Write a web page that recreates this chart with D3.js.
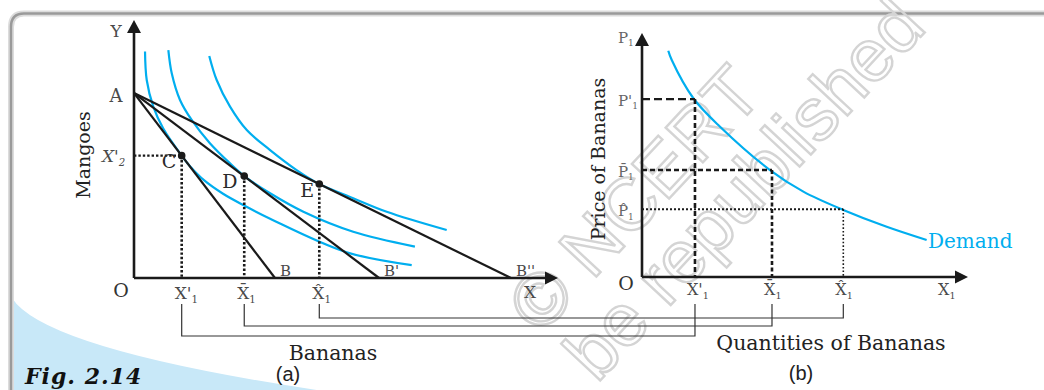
<!DOCTYPE html>
<html>
<head>
<meta charset="utf-8">
<script src="https://cdn.jsdelivr.net/npm/d3@7"></script>
<style>
  html, body { margin: 0; padding: 0; background: #fff; }
  svg { display: block; }
</style>
</head>
<body>
<div id="chart"></div>
<script>
// ---- data: panel (a), bananas (x) vs mangoes (y) ----
const budgetA = 8.6;                              // A on the mango axis
const budgetB = [6.65, 11.56, 17.78];             // B, B', B''
const budgetNames = ['B', "B'", "B''"];
const optimumNames = ['C', 'D', 'E'];
const optimumX = [2.25, 5.2, 8.74];
const optimumY = [5.69, 4.74, 4.37];
const ic1 = [[0.52, 10.53], [0.6, 9.21], [0.91, 7.97], [1.38, 6.95], [2.25, 5.69], [2.64, 5.2],
             [3.3, 4.55], [4.2, 3.92], [5.24, 3.35], [6.42, 2.76], [10.03, 1.2], [13.1, 0.6]];
const ic2 = [[1.62, 10.6], [1.78, 9.52], [2.17, 8.28], [2.72, 7.35], [3.58, 6.27], [4.53, 5.33],
             [5.2, 4.74], [6.42, 3.94], [7.99, 3.08], [10.34, 2.15], [13.25, 1.46]];
const ic3 = [[3.55, 10.33], [3.9, 9.21], [4.53, 7.97], [5.32, 6.88], [6.42, 5.95], [7.67, 5.02],
             [8.74, 4.37], [10.34, 3.71], [11.92, 3.08], [14.75, 2.23]];

// ---- data: panel (b), demand for bananas ----
const demand = [[1.29, 11.13], [1.46, 10.67], [2.52, 8.79], [3.83, 7.39], [6.28, 5.26],
                [7.92, 4.2], [9.88, 3.3], [12.01, 2.47], [13.97, 1.82]];
const prices = [8.75, 5.26, 3.33];                // P'1, P-bar1, P-hat1
const quantities = [2.6, 6.38, 9.88];             // X'1, X-bar1, X-hat1
const qtyMarks = ['\'', '\u0304', '\u0302'];      // prime, bar, hat

const W = 1044, H = 390;
const svg = d3.select('#chart').append('svg')
  .attr('width', W).attr('height', H)
  .style('font-family', "'DejaVu Serif', serif");

// scales
const xa = d3.scaleLinear().domain([0, 20]).range([134, 558]);
const ya = d3.scaleLinear().domain([0, 12]).range([278, 20]);
const xb = d3.scaleLinear().domain([0, 16]).range([642, 968]);
const yb = d3.scaleLinear().domain([0, 12]).range([277, 33]);

const INK = '#1a1a1a', CYAN = '#00aeef', GREY = '#4a4a4a';

// frame + blue corner
svg.append('path')
  .attr('d', 'M12,298 Q45,350 330,392 L12,392 Z')
  .attr('fill', '#c8e8f8');
svg.append('path')
  .attr('d', 'M11,392 L11,27 Q11,13.5 24,13.5 L1050,13.5')
  .attr('fill', 'none').attr('stroke', '#dcdcdc').attr('stroke-width', 6);
svg.append('path')
  .attr('d', 'M11,392 L11,27 Q11,13.5 24,13.5 L1050,13.5')
  .attr('fill', 'none').attr('stroke', '#9a9a9a').attr('stroke-width', 2.5);

// watermark
const wm = svg.append('g')
  .style('font-family', "'Liberation Sans', Arial, sans-serif")
  .style('font-size', '74px')
  .attr('fill', 'none').attr('stroke', '#d4d4d4').attr('stroke-width', 2.4);
wm.append('text').attr('transform', 'translate(541,336) rotate(-47)').text('\u00a9 NCERT');
wm.append('text').attr('transform', 'translate(597,384) rotate(-47)').text('be republished');

// small helper for letter + subscript labels
function label(g, x, y, base, sub, size, color, opts = {}) {
  const t = g.append('text').attr('x', x).attr('y', y)
    .attr('fill', color).style('font-size', size + 'px')
    .attr('text-anchor', opts.anchor || 'start');
  if (opts.italic) t.style('font-style', 'italic');
  t.append('tspan').text(base);
  if (sub) t.append('tspan').attr('dy', size * 0.22).style('font-size', (size * 0.6) + 'px').text(sub);
  return t;
}

function arrow(g, x, y, dir) {
  // dir: 'up' or 'right'
  const p = dir === 'up'
    ? [[x, y], [x - 7, y + 13], [x + 7, y + 13]]
    : [[x, y], [x - 13, y - 6.5], [x - 13, y + 6.5]];
  g.append('path').attr('d', 'M' + p.join('L') + 'Z').attr('fill', INK);
}

// ================= panel (a) =================
const ga = svg.append('g');
const curve = d3.line().x(d => xa(d[0])).y(d => ya(d[1])).curve(d3.curveCatmullRom.alpha(0.5));

// indifference curves
[ic1, ic2, ic3].forEach(ic => {
  ga.append('path').attr('d', curve(ic))
    .attr('fill', 'none').attr('stroke', CYAN).attr('stroke-width', 2.2);
});

// budget lines
budgetB.forEach((b, i) => {
  ga.append('line')
    .attr('x1', xa(0)).attr('y1', ya(budgetA))
    .attr('x2', xa(b)).attr('y2', ya(0))
    .attr('stroke', INK).attr('stroke-width', 2.2);
  label(ga, xa(b) + 5, ya(0) - 2, budgetNames[i], null, 15, GREY);
});

// dotted guides
ga.append('line')
  .attr('x1', xa(0)).attr('y1', ya(optimumY[0])).attr('x2', xa(optimumX[0])).attr('y2', ya(optimumY[0]))
  .attr('stroke', INK).attr('stroke-width', 2.4).attr('stroke-dasharray', '2.4,2');
optimumX.forEach((x, i) => {
  ga.append('line')
    .attr('x1', xa(x)).attr('y1', ya(optimumY[i])).attr('x2', xa(x)).attr('y2', ya(0))
    .attr('stroke', INK).attr('stroke-width', 2.6).attr('stroke-dasharray', '2.4,2');
});

// axes
ga.append('line').attr('x1', xa(0)).attr('y1', ya(0)).attr('x2', xa(0)).attr('y2', ya(12) + 10)
  .attr('stroke', INK).attr('stroke-width', 2.6);
ga.append('line').attr('x1', xa(0)).attr('y1', ya(0)).attr('x2', xa(20) - 10).attr('y2', ya(0))
  .attr('stroke', INK).attr('stroke-width', 2.6);
arrow(ga, xa(0), ya(12), 'up');
arrow(ga, xa(20), ya(0), 'right');

// optimum points
optimumX.forEach((x, i) => {
  ga.append('circle').attr('cx', xa(x)).attr('cy', ya(optimumY[i])).attr('r', 3.8).attr('fill', INK);
});
label(ga, xa(optimumX[0]) - 20, ya(optimumY[0]) + 12, 'C', null, 19, '#2a2a2a');
label(ga, xa(optimumX[1]) - 22, ya(optimumY[1]) + 12, 'D', null, 19, '#2a2a2a');
label(ga, xa(optimumX[2]) - 19, ya(optimumY[2]) + 13, 'E', null, 19, '#2a2a2a');

// axis letters
label(ga, 116, 37, 'Y', null, 17, GREY, { anchor: 'middle' });
label(ga, 116, 102, 'A', null, 18, GREY, { anchor: 'middle' });
label(ga, 121, 297, 'O', null, 19, '#333', { anchor: 'middle' });
label(ga, 530, 298, 'X', null, 17, GREY, { anchor: 'middle' });
label(ga, 102, 162, "X'", '2', 17, GREY, { italic: true });
optimumX.forEach((x, i) => {
  label(ga, xa(x) - 7, 299, 'X' + qtyMarks[i], '1', 17, GREY);
});

ga.append('text')
  .attr('transform', `translate(90,155) rotate(-90)`)
  .attr('text-anchor', 'middle').attr('fill', '#222')
  .style('font-size', '19px').text('Mangoes');
ga.append('text').attr('x', 333).attr('y', 360).attr('text-anchor', 'middle')
  .attr('fill', '#222').style('font-size', '20.5px').text('Bananas');
ga.append('text').attr('x', 288).attr('y', 381).attr('text-anchor', 'middle')
  .attr('fill', '#222').style('font-family', "'Liberation Sans', Arial, sans-serif")
  .style('font-size', '20px').text('(a)');

// ================= panel (b) =================
const gb = svg.append('g');
const dline = d3.line().x(d => xb(d[0])).y(d => yb(d[1])).curve(d3.curveCatmullRom.alpha(0.5));
gb.append('path').attr('d', dline(demand))
  .attr('fill', 'none').attr('stroke', CYAN).attr('stroke-width', 2.2);

const hDash = ['8,4', '5,3', '2,2'];
const vDash = ['5,3', '4,2.5', '1.6,2'];
const vWidth = [2.6, 2.6, 1.6];
prices.forEach((p, i) => {
  gb.append('line')
    .attr('x1', xb(0)).attr('y1', yb(p)).attr('x2', xb(quantities[i])).attr('y2', yb(p))
    .attr('stroke', INK).attr('stroke-width', i === 2 ? 2 : 2.4).attr('stroke-dasharray', hDash[i]);
  gb.append('line')
    .attr('x1', xb(quantities[i])).attr('y1', yb(p)).attr('x2', xb(quantities[i])).attr('y2', yb(0))
    .attr('stroke', INK).attr('stroke-width', vWidth[i]).attr('stroke-dasharray', vDash[i]);
});

gb.append('line').attr('x1', xb(0)).attr('y1', yb(0)).attr('x2', xb(0)).attr('y2', yb(12) + 10)
  .attr('stroke', INK).attr('stroke-width', 2.6);
gb.append('line').attr('x1', xb(0)).attr('y1', yb(0)).attr('x2', xb(16) - 10).attr('y2', yb(0))
  .attr('stroke', INK).attr('stroke-width', 2.6);
arrow(gb, xb(0), yb(12), 'up');
arrow(gb, xb(16), yb(0), 'right');

const priceMarks = ["'", '\u0304', '\u0302'];
label(gb, 618, 43, 'P', '1', 15, '#666');
prices.forEach((p, i) => {
  label(gb, 618, yb(p) + 7, 'P' + priceMarks[i], '1', 15, '#666');
});
label(gb, 626, 290, 'O', null, 19, '#333', { anchor: 'middle' });
quantities.forEach((q, i) => {
  label(gb, xb(q) - 8, 295, 'X' + qtyMarks[i], '1', 16, GREY);
});
label(gb, 938, 295, 'X', '1', 16, GREY);

gb.append('text').attr('x', 928).attr('y', 248).attr('fill', CYAN)
  .style('font-size', '20px').text('Demand');

gb.append('text')
  .attr('transform', `translate(605,159) rotate(-90)`)
  .attr('text-anchor', 'middle').attr('fill', '#222')
  .style('font-size', '19px').text('Price of Bananas');
gb.append('text').attr('x', 831).attr('y', 350).attr('text-anchor', 'middle')
  .attr('fill', '#222').style('font-size', '20.5px').text('Quantities of Bananas');
gb.append('text').attr('x', 801).attr('y', 380).attr('text-anchor', 'middle')
  .attr('fill', '#222').style('font-family', "'Liberation Sans', Arial, sans-serif")
  .style('font-size', '20px').text('(b)');

// ================= connecting brackets =================
const bracketLevels = [336, 326, 318];
optimumX.forEach((x, i) => {
  const x1 = xa(x), x2 = xb(quantities[i]), lv = bracketLevels[i];
  svg.append('path')
    .attr('d', `M${x1},304 L${x1},${lv} L${x2},${lv} L${x2},304`)
    .attr('fill', 'none').attr('stroke', '#333').attr('stroke-width', 1.2);
});

// figure caption
svg.append('text').attr('x', 25).attr('y', 384)
  .attr('fill', '#111')
  .style('font-weight', 'bold').style('font-style', 'italic')
  .style('letter-spacing', '1px')
  .style('font-size', '22px').text('Fig. 2.14');
</script>
</body>
</html>
